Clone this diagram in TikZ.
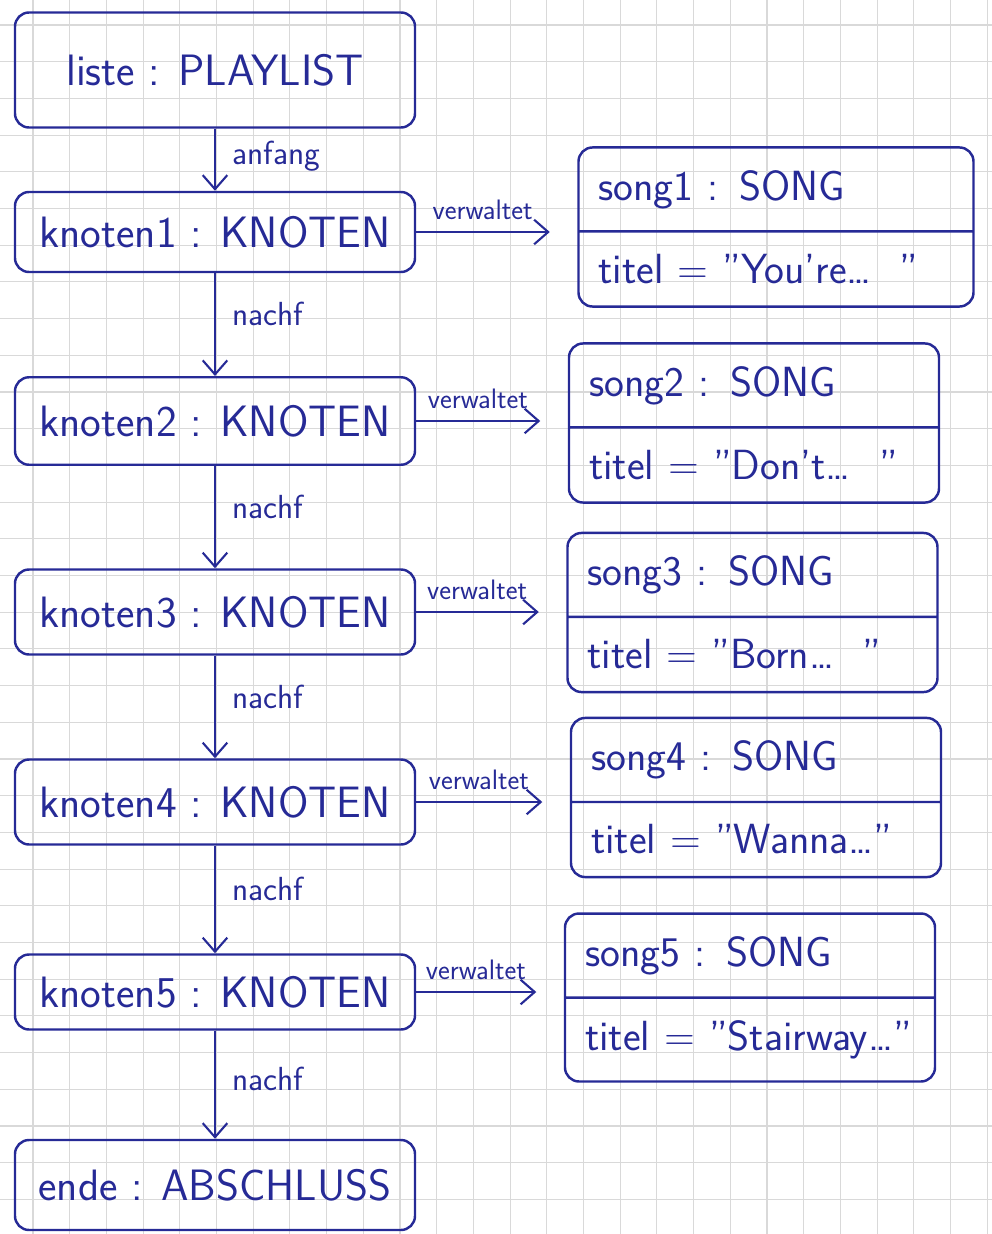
\documentclass[tikz,border=0pt]{standalone}
\usepackage{tikz}
\usetikzlibrary{positioning, arrows.meta, shapes.multipart}
\definecolor{Tinte}{RGB}{38,42,150}

\begin{document}
\begin{tikzpicture}[
  %% Knoten der Liste — links
  objbox/.style={
    rectangle, rounded corners=8pt,
    draw=Tinte, line width=1.4pt,
    text=Tinte, font=\sffamily\fontsize{25}{29}\selectfont,
    minimum width=8cm, minimum height=1.7cm,
    inner xsep=4pt
  },
  %% Song-Objekte — rechts, zweigeteilt
  songbox/.style={
    rectangle split, rectangle split parts=2,
    rounded corners=8pt,
    draw=Tinte, line width=1.4pt,
    text=Tinte, font=\sffamily\fontsize{24}{28}\selectfont,
    text width=6.6cm, align=left,
    inner xsep=0.4cm, inner ysep=0.43cm
  },
  lbl/.style={
    text=Tinte, font=\sffamily\fontsize{19}{22}\selectfont
  },
  arr/.style={
    -{Straight Barb[length=8pt, width=14pt]}, line width=1.2pt, draw=Tinte
  },
  gridline/.style={draw=gray!30, line width=0.6pt}
]

\useasboundingbox (0,0) rectangle (19.84,-24.68);

%% ── Karopapier ─────────────────────────────────────────────────────────────
\foreach \i in {0,...,26}
  \draw[gridline] ({0.66+0.734*\i},0) -- ({0.66+0.734*\i},-24.68);
\foreach \j in {0,...,32}
  \draw[gridline] (0,{-0.5-0.734*\j}) -- (19.84,{-0.5-0.734*\j});

%% ── Liste und Knoten — links ───────────────────────────────────────────────
\node[objbox, minimum height=2.3cm] (liste) at (4.3, -1.4)
  {liste : PLAYLIST};
\node[objbox, minimum height=1.6cm] (k1) at (4.3, -4.64)
  {knoten1 : KNOTEN};
\node[objbox, minimum height=1.75cm] (k2) at (4.3, -8.42)
  {knoten2 : KNOTEN};
\node[objbox] (k3) at (4.3, -12.24)
  {knoten3 : KNOTEN};
\node[objbox] (k4) at (4.3, -16.04)
  {knoten4 : KNOTEN};
\node[objbox, minimum height=1.5cm] (k5) at (4.3, -19.84)
  {knoten5 : KNOTEN};
\node[objbox, minimum height=1.8cm] (ende) at (4.3, -23.7)
  {ende : ABSCHLUSS};

%% ── Songs — rechts ─────────────────────────────────────────────────────────
\node[songbox, text width=7.1cm] (s1) at (15.52, -4.54)
  {song1 : SONG \nodepart{two} titel = "You're\dots\ \ "};
\node[songbox] (s2) at (15.08, -8.46)
  {song2 : SONG \nodepart{two} titel = "Don't\dots\ \ "};
\node[songbox] (s3) at (15.05, -12.25)
  {song3 : SONG \nodepart{two} titel = "Born\dots\ \ "};
\node[songbox] (s4) at (15.12, -15.95)
  {song4 : SONG \nodepart{two} titel = "Wanna\dots"};
\node[songbox] (s5) at (15.0, -19.95)
  {song5 : SONG \nodepart{two} titel = "Stairway\dots"};

%% ────────────────── PFEILE ─────────────────────────────────────────────────

%% anfang / nachf
\draw[arr] (liste.south) --
  node[lbl, right, xshift=6pt, pos=0.45] {anfang} (k1.north);
\draw[arr] (k1.south) --
  node[lbl, right, xshift=6pt, pos=0.4] {nachf} (k2.north);
\draw[arr] (k2.south) --
  node[lbl, right, xshift=6pt, pos=0.4] {nachf} (k3.north);
\draw[arr] (k3.south) --
  node[lbl, right, xshift=6pt, pos=0.4] {nachf} (k4.north);
\draw[arr] (k4.south) --
  node[lbl, right, xshift=6pt, pos=0.4] {nachf} (k5.north);
\draw[arr] (k5.south) --
  node[lbl, right, xshift=6pt, pos=0.45] {nachf} (ende.north);

%% verwaltet
\foreach \k/\s in {k1/s1, k2/s2, k3/s3, k4/s4, k5/s5}
  \draw[arr, shorten >=0.55cm] (\k.east) --
    node[lbl, above, xshift=-8pt, yshift=3pt,
         font=\sffamily\fontsize{16}{19}\selectfont]
      {verwaltet}
    (\k.east -| \s.west);

\end{tikzpicture}
\end{document}
